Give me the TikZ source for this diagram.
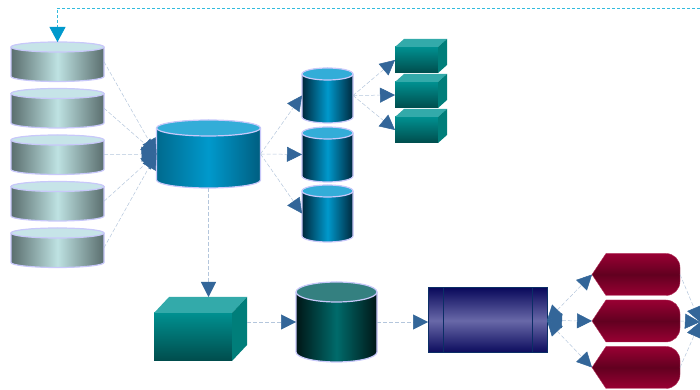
\documentclass[tikz,border=0pt]{standalone}
\usetikzlibrary{arrows.meta}
\definecolor{connc}{HTML}{B4C6DC}
\definecolor{arrowc}{HTML}{336699}
\definecolor{lav}{HTML}{C8C8FA}
\definecolor{lgedge}{HTML}{5A6E6E}
\definecolor{lgmid}{HTML}{BEE2E2}
\definecolor{lgtop}{HTML}{C6E4E8}
\definecolor{bledge}{HTML}{006A8E}
\definecolor{bledgeb}{HTML}{005E80}
\definecolor{blmid}{HTML}{0099CC}
\definecolor{bltop}{HTML}{33ADD8}
\definecolor{bldark}{HTML}{00283C}
\definecolor{dkedge}{HTML}{001616}
\definecolor{dkmid}{HTML}{006B6B}
\definecolor{dktop}{HTML}{348080}
\definecolor{boxtop}{HTML}{009090}
\definecolor{boxbot}{HTML}{004C4C}
\definecolor{boxlid}{HTML}{33AAAA}
\definecolor{boxside}{HTML}{007E7A}
\definecolor{navyd}{HTML}{0A0A5C}
\definecolor{navyl}{HTML}{6868A8}
\definecolor{navyb}{HTML}{0B2E66}
\definecolor{redc}{HTML}{990033}
\definecolor{redd}{HTML}{620020}
\definecolor{redb}{HTML}{B0305A}
\definecolor{cyanl}{HTML}{33BBDD}
\definecolor{cyana}{HTML}{0099CC}
\tikzset{
  holder/.style={inner sep=0pt, outer sep=0pt, draw=none},
  conn/.style={draw=connc, line width=0.5pt, dash pattern=on 4pt off 2pt},
  tipend/.style={-{Triangle[length=15pt,width=15pt,color=arrowc]}},
  tipboth/.style={{Triangle[length=15pt,width=15pt,color=arrowc]}-{Triangle[length=15pt,width=15pt,color=arrowc]}},
  cylline/.style={draw=lav, line width=1.2pt},
  cyanline/.style={draw=cyanl, line width=0.8pt, dash pattern=on 3pt off 2pt},
}
% #1 cx, #2 top centre Y, #3 bottom centre Y, #4 rx, #5 ry, #6 left, #7 middle, #8 right, #9 top colour
\newcommand{\dbcyl}[9]{%
  \path[left color=#6,right color=#8,middle color=#7] (#1-#4,#2) -- (#1-#4,#3) arc[start angle=180,end angle=360,x radius=#4,y radius=#5] -- (#1+#4,#2) arc[start angle=0,end angle=180,x radius=#4,y radius=#5] -- cycle;
  \fill[#9] (#1,#2) ellipse[x radius=#4,y radius=#5];
  \draw[cylline] (#1-#4,#2) -- (#1-#4,#3) arc[start angle=180,end angle=360,x radius=#4,y radius=#5] -- (#1+#4,#2);
  \draw[cylline] (#1,#2) ellipse[x radius=#4,y radius=#5];
}
% #1 x0, #2 Ybot, #3 w, #4 h, #5 dx, #6 dy
\newcommand{\dbbox}[6]{%
  \path[top color=boxtop, bottom color=boxbot] (#1,#2) rectangle (#1+#3,#2+#4);
  \fill[boxlid] (#1,#2+#4) -- (#1+#5,#2+#4+#6) -- (#1+#3+#5,#2+#4+#6) -- (#1+#3,#2+#4) -- cycle;
  \fill[boxside] (#1+#3,#2) -- (#1+#3+#5,#2+#6) -- (#1+#3+#5,#2+#4+#6) -- (#1+#3,#2+#4) -- cycle;
}
\newcommand{\dbred}[1]{%
  \path[top color=redc, bottom color=redc, middle color=redd, draw=redb, line width=0.4pt] (592,#1) -- (606,#1+21) -- (666,#1+21) arc[start angle=90,end angle=0,radius=14] -- (680,#1-7) arc[start angle=0,end angle=-90,radius=14] -- (606,#1-21) -- cycle;
}
\begin{document}
\begin{tikzpicture}[x=1pt,y=1pt]
\useasboundingbox (0,0) rectangle (700,390);
\clip (0,0) rectangle (700,390);

% ---- shapes ----
\dbcyl{57.5}{343}{313.5}{46.5}{5}{lgedge}{lgmid}{lgedge}{lgtop}
\dbcyl{57.5}{296.5}{267}{46.5}{5}{lgedge}{lgmid}{lgedge}{lgtop}
\dbcyl{57.5}{250}{220.5}{46.5}{5}{lgedge}{lgmid}{lgedge}{lgtop}
\dbcyl{57.5}{203.5}{174}{46.5}{5}{lgedge}{lgmid}{lgedge}{lgtop}
\dbcyl{57.5}{157}{127.5}{46.5}{5}{lgedge}{lgmid}{lgedge}{lgtop}

\dbcyl{208.5}{262}{210}{52}{8}{bledge}{blmid}{bledgeb}{bltop}

\dbcyl{327.5}{316}{273}{25.5}{6}{bldark}{blmid}{bldark}{bltop}
\dbcyl{327.5}{257}{214}{25.5}{6}{bldark}{blmid}{bldark}{bltop}
\dbcyl{327.5}{199}{154}{25.5}{6}{bldark}{blmid}{bldark}{bltop}

\dbbox{395}{317}{43}{26}{9}{8}
\dbbox{395}{282}{43}{26}{9}{8}
\dbbox{395}{247}{43}{26}{9}{8}

\dbbox{154}{29}{78}{48}{15}{16}

\dbcyl{336.5}{98}{38}{40.5}{10}{dkedge}{dkmid}{dkedge}{dktop}

\path[top color=navyd, bottom color=navyd, middle color=navyl, draw=navyb, line width=1pt] (428,37) rectangle (547,102);
\draw[navyb, line width=1pt] (443,37) -- (443,102) (532,37) -- (532,102);

\dbred{115.5}
\dbred{69}
\dbred{22.5}

% ---- named nodes ----
\node[holder, minimum width=93pt, minimum height=39.5pt] (L1) at (57.5,328.25) {};
\node[holder, minimum width=93pt, minimum height=39.5pt] (L2) at (57.5,281.75) {};
\node[holder, minimum width=93pt, minimum height=39.5pt] (L3) at (57.5,235.25) {};
\node[holder, minimum width=93pt, minimum height=39.5pt] (L4) at (57.5,188.75) {};
\node[holder, minimum width=93pt, minimum height=39.5pt] (L5) at (57.5,142.25) {};
\node[holder, minimum width=104pt, minimum height=68pt] (M) at (208.5,236) {};
\node[holder, minimum width=51pt, minimum height=55pt] (S1) at (327.5,294.5) {};
\node[holder, minimum width=51pt, minimum height=55pt] (S2) at (327.5,235.5) {};
\node[holder, minimum width=51pt, minimum height=57pt] (S3) at (327.5,176.5) {};
\node[holder, minimum width=43pt, minimum height=26pt] (B1) at (416.5,330) {};
\node[holder, minimum width=43pt, minimum height=26pt] (B2) at (416.5,295) {};
\node[holder, minimum width=43pt, minimum height=26pt] (B3) at (416.5,260) {};
\node[holder, minimum width=93pt, minimum height=64pt] (BB) at (200.5,61) {};
\node[holder, minimum width=81pt, minimum height=80pt] (D) at (336.5,68) {};
\node[holder, minimum width=119pt, minimum height=65pt] (N) at (487.5,69.5) {};
\node[holder, minimum width=88pt, minimum height=42pt] (R1) at (636,115.5) {};
\node[holder, minimum width=88pt, minimum height=42pt] (R2) at (636,69) {};
\node[holder, minimum width=88pt, minimum height=42pt] (R3) at (636,22.5) {};
\coordinate (T) at (700,68);
\coordinate (TR) at (700,382);

% ---- connectors ----
\foreach \n in {L1,L2,L3,L4,L5} \draw[conn, tipend] (\n.east) -- (M.west);
\foreach \n in {S1,S2,S3} \draw[conn, tipend] (M.east) -- (\n.west);
\foreach \n in {B1,B2,B3} \draw[conn, tipend] (S1.east) -- (\n.west);
\draw[conn, tipend] (M.south) -- (M.south |- BB.north);
\draw[conn, tipend] (BB.east |- D.west) -- (D.west);
\draw[conn, tipend] (D.east) -- (D.east -| N.west);
\foreach \n in {R1,R2,R3} \draw[conn, tipboth] (N.east) -- (\n.west);
\foreach \n in {R1,R2,R3} \draw[conn, tipend] (\n.east) -- (T);
\draw[cyanline, -{Triangle[length=15pt,width=16pt,color=cyana]}] (TR) -- (TR -| L1.north) -- (L1.north);
\end{tikzpicture}
\end{document}
